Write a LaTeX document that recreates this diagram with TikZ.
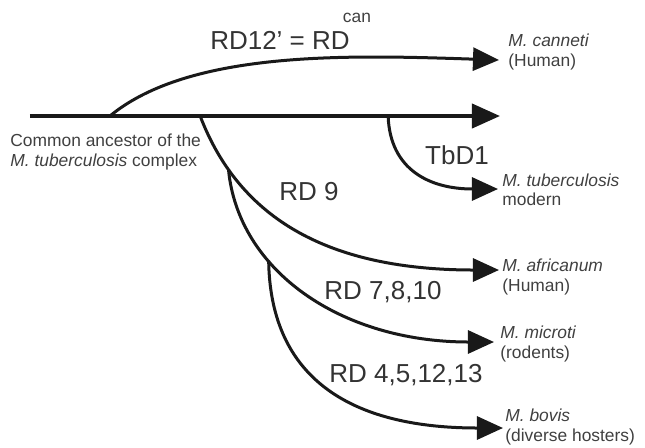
\documentclass[tikz,border=0pt]{standalone}
\usepackage{fontspec}
\setmainfont{Liberation Sans}
\usetikzlibrary{arrows.meta,positioning}

\begin{document}
\begin{tikzpicture}[x=.5pt,y=-.5pt,
    tip/.style={-{Triangle[length=13pt,width=11.5pt]}},
    branch/.style={tip,line width=1.5pt,black!90},
    rd/.style={font=\fontsize{13}{15}\selectfont,text=black!80,inner sep=0pt},
    taxon/.style={font=\fontsize{8.7}{9.6}\selectfont,text=black!75,align=left,inner sep=0pt,anchor=west}]
  \useasboundingbox (0,0) rectangle (645,447);
  % main lineage and where the branches leave it
  \coordinate (root) at (30,116); \coordinate (tmain) at (500,116);
  \draw[-{Triangle[length=14pt,width=12pt]},line width=2pt,black!90] (root) -- (tmain)
    coordinate[pos=.170] (bcan) coordinate[pos=.362] (bafr) coordinate[pos=.762] (btb);
  \node[taxon] (anc) at (10,152) {Common ancestor of the\\\textit{M. tuberculosis} complex};
  % arrow tips
  \coordinate (tcan) at (499,60); \coordinate (ttb) at (498,189);
  \coordinate (tafr) at (499,270); \coordinate (tmic) at (494,342);
  \coordinate (tbov) at (503,428);
  % branches
  \draw[branch] (bcan) .. controls (190,50) and (350,55) .. (tcan);
  \draw[branch] (btb) .. controls (390,170) and (430,189) .. (ttb);
  \draw[branch] (bafr) .. controls (240,220) and (330,270) .. (tafr) coordinate[pos=.19] (bmic);
  \draw[branch] (bmic) .. controls (238,270) and (340,342) .. (tmic) coordinate[pos=.34] (bbov);
  \draw[branch] (bbov) .. controls (270,370) and (340,428) .. (tbov);
  % deletions
  \node[rd] (l12) at (280,40) {RD12' = RD};
  \node[taxon,anchor=center] (lcan) at (357,18) {can};
  \node[rd] (ltb) at (457,155) {TbD1};
  \node[rd] (l9) at (309,192) {RD 9};
  \node[rd] (l7) at (383,292) {RD 7,8,10};
  \node[rd] (l4) at (406,375) {RD 4,5,12,13};
  % species
  \node[taxon] (mcan) at (508,52) {\textit{M. canneti}\\(Human)};
  \node[taxon] (mtb) at (502,190) {\textit{M. tuberculosis}\\modern};
  \node[taxon] (mafr) at (502,277) {\textit{M. africanum}\\(Human)};
  \node[taxon] (mmic) at (500,344) {\textit{M. microti}\\(rodents)};
  \node[taxon] (mbov) at (505,427) {\textit{M. bovis}\\(diverse hosters)};
\end{tikzpicture}
\end{document}
